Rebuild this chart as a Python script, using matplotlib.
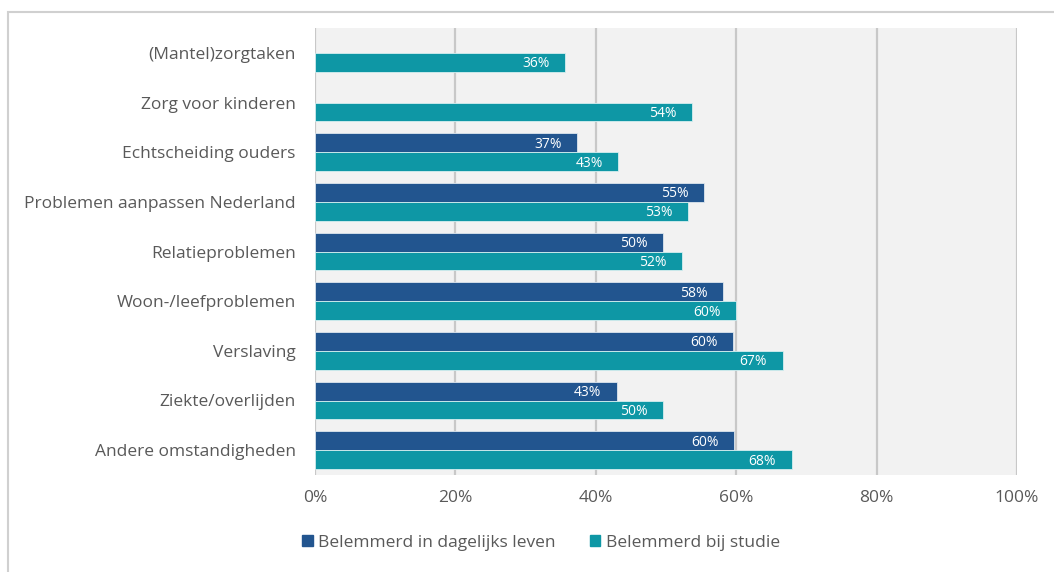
import matplotlib
matplotlib.use("Agg")
import matplotlib.pyplot as plt
import matplotlib.patches as mpatches
import numpy as np

categories = [
    "(Mantel)zorgtaken", "Zorg voor kinderen", "Echtscheiding ouders",
    "Problemen aanpassen Nederland", "Relatieproblemen", "Woon-/leefproblemen",
    "Verslaving", "Ziekte/overlijden", "Andere omstandigheden",
]
dagelijks = [np.nan, np.nan, 37.3, 55.4, 49.6, 58.1, 59.6, 43.0, 59.7]
studie = [35.6, 53.7, 43.2, 53.1, 52.3, 60.0, 66.6, 49.6, 67.9]
series_names = ["Belemmerd in dagelijks leven", "Belemmerd bij studie"]
xticks = [0, 20, 40, 60, 80, 100]

DARK = "#22558F"
TEAL = "#0E97A5"
GRAY_TXT = "#595959"
FONT = "Open Sans"

fig = plt.figure(figsize=(10.54, 5.72), dpi=100, facecolor="white")
ax = fig.add_axes([315 / 1054, 1 - 475 / 572, (1017 - 315) / 1054, (475 - 28) / 572])
ax.set_facecolor("#F2F2F2")

# outer frame of the chart area
fig.patches.append(mpatches.Rectangle((7.5 / 1054, -0.05), 1.1, 1 - 11.5 / 572 + 0.05,
                                      transform=fig.transFigure, fill=False,
                                      edgecolor="#D0D0D0", linewidth=1.5))

y = np.arange(len(categories))
h = 0.38
b1 = ax.barh(y - h / 2, dagelijks, height=h, color=DARK, edgecolor="#DDE6EE", linewidth=0.6, zorder=3)
b2 = ax.barh(y + h / 2, studie, height=h, color=TEAL, edgecolor="#D6EEF0", linewidth=0.6, zorder=3)

for bars, vals in ((b1, dagelijks), (b2, studie)):
    for bar, v in zip(bars, vals):
        if np.isnan(v):
            continue
        ax.text(v - 2.2, bar.get_y() + bar.get_height() / 2 + 0.03, f"{round(v):.0f}%",
                ha="right", va="center", color="white", fontsize=10, family=FONT, zorder=4)

ax.set_xlim(0, 100)
ax.set_ylim(len(categories) - 0.5, -0.5)
ax.set_xticks(xticks)
ax.set_xticklabels([f"{t}%" for t in xticks], fontsize=12.5, color=GRAY_TXT, family=FONT)
ax.set_yticks(y)
ax.set_yticklabels(categories, fontsize=12.5, color=GRAY_TXT, family=FONT)
ax.tick_params(axis="both", length=0)
ax.tick_params(axis="y", pad=14)
ax.tick_params(axis="x", pad=11)
ax.grid(axis="x", color="#C8C8C8", linewidth=1.6, zorder=1)
ax.set_axisbelow(True)
for s in ax.spines.values():
    s.set_visible(False)

handles = [mpatches.Patch(color=DARK, label=series_names[0]),
           mpatches.Patch(color=TEAL, label=series_names[1])]
leg = fig.legend(handles=handles, loc="center", bbox_to_anchor=(541 / 1054, 1 - 543 / 572),
                 ncol=2, frameon=False, handlelength=0.6, handleheight=0.6,
                 handletextpad=0.3, columnspacing=2.0,
                 prop={"family": FONT, "size": 12.5})
for t in leg.get_texts():
    t.set_color(GRAY_TXT)

fig.savefig("out.png", dpi=100, facecolor="white")
